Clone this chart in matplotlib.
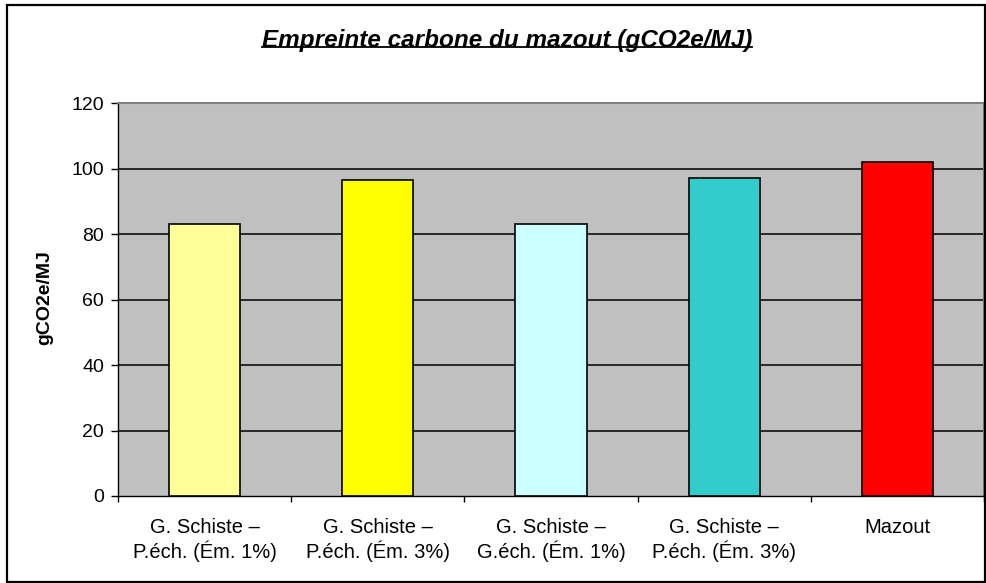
import numpy as np
import matplotlib.pyplot as plt
from matplotlib.lines import Line2D
from matplotlib.patches import Rectangle

plt.rcParams['font.family'] = ['Liberation Sans', 'DejaVu Sans']

# data
categories = ["G. Schiste –\nP.éch. (Ém. 1%)", "G. Schiste –\nP.éch. (Ém. 3%)",
              "G. Schiste –\nG.éch. (Ém. 1%)", "G. Schiste –\nP.éch. (Ém. 3%)", "Mazout"]
values = [83.0, 96.5, 83.0, 97.0, 102.0]
colors = ["#FFFF99", "#FFFF00", "#CCFFFF", "#33CCCC", "#FF0000"]
yticks = [0, 20, 40, 60, 80, 100, 120]

W, H = 987, 583
fig = plt.figure(figsize=(W / 100, H / 100), dpi=100)

# plot area in pixels
left, right, top, bottom = 118, 984, 103, 496
ax = fig.add_axes([left / W, (H - bottom) / H, (right - left) / W, (bottom - top) / H])
ax.set_facecolor("#C0C0C0")

x = np.arange(len(categories))
ax.bar(x, values, width=0.41, color=colors, edgecolor="black", linewidth=1.2, zorder=3)

ax.set_xlim(-0.5, len(categories) - 0.5)
ax.set_ylim(0, 120)
ax.set_yticks(yticks)
ax.tick_params(axis='y', labelsize=14, length=5, width=1, direction='out', pad=5)
for y in yticks[1:-1]:
    ax.axhline(y, color="black", linewidth=1.1, zorder=1)

ax.set_xticks(x)
ax.set_xticklabels(categories, fontsize=14.5, linespacing=1.2)
ax.tick_params(axis='x', length=0, pad=16)
ax.set_xticks(np.arange(len(categories) + 1) - 0.5, minor=True)
ax.tick_params(axis='x', which='minor', length=4, width=1, direction='out')

ax.spines['left'].set_color("black")
ax.spines['bottom'].set_color("black")
ax.spines['left'].set_linewidth(1)
ax.spines['bottom'].set_linewidth(1)
ax.spines['top'].set_color("#808080")
ax.spines['right'].set_color("#808080")
ax.spines['top'].set_linewidth(1.5)
ax.spines['right'].set_linewidth(1.5)

fig.text(45 / W, 1 - 298 / H, "gCO2e/MJ", rotation=90, fontsize=14, fontweight='bold',
         ha='center', va='center')

title = fig.text(507 / W, 1 - 40 / H, "Empreinte carbone du mazout (gCO2e/MJ)",
                 fontsize=17.5, fontweight='bold', fontstyle='italic', ha='center', va='center')

# outer border
fig.patches.append(Rectangle((7 / W, 1 / H), 978 / W, 577 / H, transform=fig.transFigure,
                             fill=False, edgecolor="black", linewidth=1.6))

# underline the title
fig.canvas.draw()
bb = title.get_window_extent()
uy = bb.y0 + 0.2 * bb.height
fig.add_artist(Line2D([bb.x0 / W, bb.x1 / W], [uy / H, uy / H], transform=fig.transFigure,
                      color="black", linewidth=1.3))

fig.savefig("out.png", dpi=100)
